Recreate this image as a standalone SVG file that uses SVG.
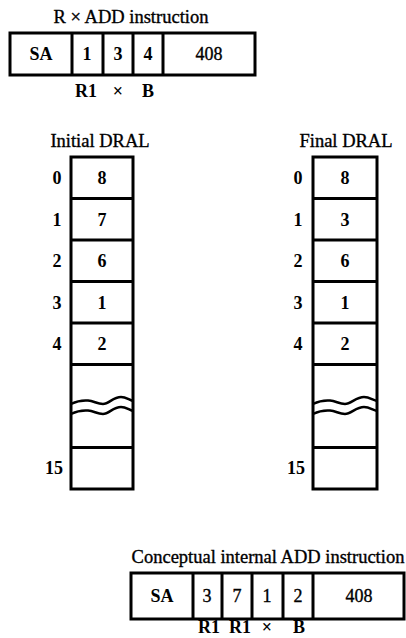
<svg xmlns="http://www.w3.org/2000/svg" width="406" height="638" viewBox="0 0 406 638">
<style>
text{font-family:"Liberation Serif","Times New Roman",serif;fill:#000;text-anchor:middle}
.t{font-size:18.5px;stroke:#000;stroke-width:0.35}
.c{font-size:18px;font-weight:bold}
.n{font-size:18px;stroke:#000;stroke-width:0.35}
.box{fill:#fff;stroke:#000;stroke-width:3}
.ln{stroke:#000;stroke-width:3;fill:none}
.wv{stroke:#000;stroke-width:2.5;fill:none}
</style>
<rect width="406" height="638" fill="#fff"/>
<g id="top-instruction">
<text class="t" x="131" y="23">R × ADD instruction</text>
<rect class="box" x="10" y="33" width="245" height="42"/>
<path class="ln" d="M72,33V75M103,33V75M133,33V75M163,33V75"/>
<text class="c" x="41" y="60">SA</text>
<text class="c" x="87" y="60">1</text>
<text class="c" x="118" y="60">3</text>
<text class="c" x="148" y="60">4</text>
<text class="n" x="209" y="60">408</text>
<text class="c" x="86" y="97">R1</text>
<text class="c" x="118" y="97">×</text>
<text class="c" x="148" y="97">B</text>
</g>
<g id="initial-dral">
<text class="t" x="100" y="147">Initial DRAL</text>
<rect class="box" x="71" y="157" width="62" height="332"/>
<path class="ln" d="M71,198.5H133M71,240H133M71,281.5H133M71,323H133M71,364.5H133M71,447.5H133"/>
<path class="wv" d="M71,404C77,401 82,400 88,400.5C94,401 97,404 103,404C109,404 113,397 121,397C126,397 129,400 133,401"/>
<path class="wv" d="M71,414C77,411 82,410 88,410.5C94,411 97,414 103,414C109,414 113,407 121,407C126,407 129,410 133,411"/>
<text class="c" x="57" y="184">0</text>
<text class="c" x="57" y="225.5">1</text>
<text class="c" x="57" y="267">2</text>
<text class="c" x="57" y="308.5">3</text>
<text class="c" x="57" y="350">4</text>
<text class="c" x="54" y="474">15</text>
<text class="c" x="102" y="184">8</text>
<text class="c" x="102" y="225.5">7</text>
<text class="c" x="102" y="267">6</text>
<text class="c" x="102" y="308.5">1</text>
<text class="c" x="102" y="350">2</text>
</g>
<g id="final-dral">
<text class="t" x="346" y="147">Final DRAL</text>
<rect class="box" x="313" y="157" width="64" height="332"/>
<path class="ln" d="M313,198.5H377M313,240H377M313,281.5H377M313,323H377M313,364.5H377M313,447.5H377"/>
<path class="wv" d="M313,404C319,401 324,400 330,400.5C336,401 339,404 345,404C351,404 356,397 364,397C369,397 373,400 377,401"/>
<path class="wv" d="M313,414C319,411 324,410 330,410.5C336,411 339,414 345,414C351,414 356,407 364,407C369,407 373,410 377,411"/>
<text class="c" x="298" y="184">0</text>
<text class="c" x="298" y="225.5">1</text>
<text class="c" x="298" y="267">2</text>
<text class="c" x="298" y="308.5">3</text>
<text class="c" x="298" y="350">4</text>
<text class="c" x="296" y="474">15</text>
<text class="c" x="345" y="184">8</text>
<text class="c" x="345" y="225.5">3</text>
<text class="c" x="345" y="267">6</text>
<text class="c" x="345" y="308.5">1</text>
<text class="c" x="345" y="350">2</text>
</g>
<g id="conceptual-instruction">
<text class="t" x="268" y="563">Conceptual internal ADD instruction</text>
<rect class="box" x="131" y="573" width="273" height="46"/>
<path class="ln" d="M193,573V619M222,573V619M252,573V619M283,573V619M313,573V619"/>
<text class="c" x="162" y="602">SA</text>
<text class="n" x="207" y="602">3</text>
<text class="n" x="237" y="602">7</text>
<text class="n" x="267" y="602">1</text>
<text class="n" x="298" y="602">2</text>
<text class="n" x="359" y="602">408</text>
<text class="c" x="209" y="633">R1</text>
<text class="c" x="240" y="633">R1</text>
<text class="c" x="267" y="633">×</text>
<text class="c" x="299" y="633">B</text>
</g>
<g id="connectors"></g>
</svg>
